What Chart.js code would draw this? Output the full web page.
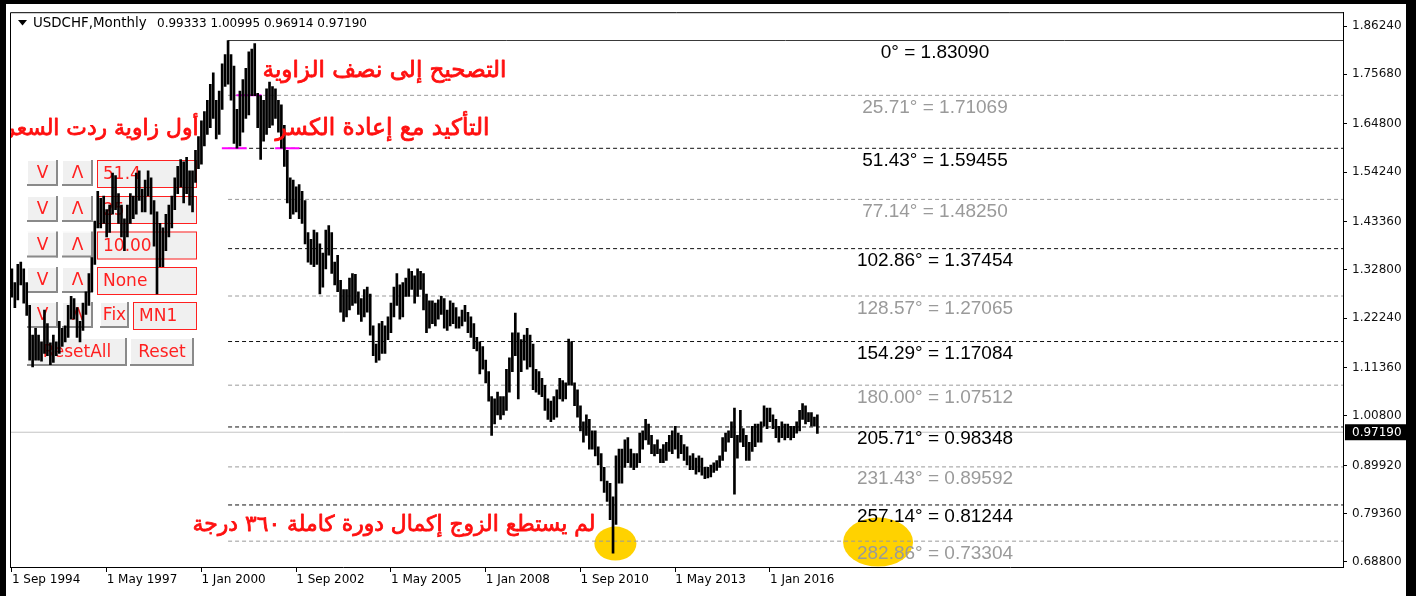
<!DOCTYPE html>
<html><head><meta charset="utf-8">
<script src="https://cdn.jsdelivr.net/npm/chart.js@4.4.0/dist/chart.umd.min.js"></script>
<style>html,body{margin:0;padding:0;background:#fff;overflow:hidden}#wrap{position:relative;width:1416px;height:596px}</style>
</head><body><div id="wrap"><canvas id="c" width="1416" height="596"></canvas></div>
<script>
// ---------------- DATA ----------------
const symbolName = 'USDCHF,Monthly';
const lastOHLC = [0.99333, 1.00995, 0.96914, 0.97190];
const xTickLabels = ['1 Sep 1994','1 May 1997','1 Jan 2000','1 Sep 2002','1 May 2005','1 Jan 2008','1 Sep 2010','1 May 2013','1 Jan 2016'];
const xTickStepMonths = 32;
const yTickValues = [1.86240,1.75680,1.64800,1.54240,1.43360,1.32800,1.22240,1.11360,1.00800,0.89920,0.79360,0.68800];
const levelAngles = ['0','25.71','51.43','77.14','102.86','128.57','154.29','180.00','205.71','231.43','257.14','282.86'];
const levelPrices = [1.83090,1.71069,1.59455,1.48250,1.37454,1.27065,1.17084,1.07512,0.98348,0.89592,0.81244,0.73304];
const levelStartBar = 73; // Oct 2000 high bar
// monthly highs / lows, first bar = Sep 1994
const highs = [
 1.330,1.300,1.340,1.345,
 1.330,1.300,1.250,1.185,1.200,1.185,1.170,1.240,1.210,1.168,1.185,1.170,
 1.215,1.200,1.205,1.250,1.270,1.265,1.245,1.215,1.255,1.280,1.320,1.355,
 1.435,1.500,1.485,1.490,1.460,1.470,1.540,1.535,1.495,1.470,1.440,1.470,
 1.495,1.490,1.540,1.545,1.505,1.525,1.545,1.530,1.480,1.455,1.430,1.420,
 1.450,1.470,1.490,1.530,1.555,1.570,1.565,1.575,1.545,1.545,1.590,1.620,
 1.655,1.675,1.700,1.735,1.760,1.700,1.720,1.780,1.800,1.8309,1.800,1.775,
 1.680,1.720,1.745,1.770,1.806,1.812,1.824,1.715,1.710,1.700,1.725,1.740,
 1.730,1.725,1.700,1.690,1.645,1.590,1.530,1.525,1.510,1.515,1.500,1.480,
 1.410,1.395,1.415,1.410,1.385,1.365,1.415,1.425,1.410,1.345,1.360,1.305,
 1.285,1.285,1.310,1.320,1.318,1.280,1.265,1.285,1.290,1.275,1.205,1.165,
 1.210,1.215,1.205,1.225,1.255,1.290,1.320,1.295,1.300,1.310,1.330,1.325,
 1.315,1.330,1.325,1.320,1.275,1.260,1.260,1.255,1.262,1.270,1.265,1.240,
 1.260,1.255,1.245,1.225,1.240,1.250,1.235,1.225,1.210,1.180,1.170,1.160,
 1.130,1.105,1.050,1.045,1.060,1.050,1.050,1.110,1.135,1.190,1.233,1.190,
 1.175,1.185,1.200,1.185,1.165,1.110,1.105,1.090,1.075,1.045,1.040,1.050,
 1.065,1.090,1.085,1.080,1.176,1.170,1.080,1.065,1.030,0.995,1.010,1.000,
 0.975,0.975,0.940,0.925,0.895,0.865,0.860,0.830,0.920,0.935,0.935,0.955,
 0.960,0.935,0.925,0.925,0.970,0.975,1.000,0.990,0.965,0.945,0.955,0.935,
 0.945,0.950,0.965,0.975,0.985,0.970,0.965,0.945,0.940,0.920,0.925,0.915,
 0.920,0.915,0.895,0.895,0.900,0.905,0.910,0.920,0.960,0.970,0.975,0.995,
 1.025,0.965,1.020,0.980,0.965,0.950,0.985,0.990,0.990,0.995,1.030,1.025,
 1.025,1.010,1.000,0.985,0.995,0.990,0.990,0.985,0.985,0.995,1.020,1.035,
 1.030,1.015,1.015,1.005,1.00995
];
const lows = [
 1.268,1.245,1.262,1.295,
 1.255,1.228,1.130,1.115,1.130,1.130,1.128,1.145,1.140,1.120,1.125,1.140,
 1.145,1.160,1.170,1.180,1.220,1.220,1.180,1.170,1.195,1.230,1.250,1.280,
 1.340,1.420,1.420,1.430,1.400,1.410,1.450,1.460,1.430,1.400,1.370,1.400,
 1.430,1.440,1.450,1.480,1.455,1.455,1.490,1.450,1.380,1.275,1.335,1.335,
 1.370,1.400,1.420,1.460,1.495,1.510,1.475,1.495,1.470,1.455,1.520,1.550,
 1.560,1.600,1.625,1.640,1.660,1.615,1.625,1.680,1.730,1.735,1.700,1.605,
 1.595,1.600,1.630,1.660,1.668,1.710,1.710,1.640,1.570,1.610,1.625,1.640,
 1.645,1.660,1.630,1.595,1.555,1.475,1.440,1.450,1.455,1.440,1.430,1.385,
 1.345,1.340,1.335,1.340,1.275,1.290,1.330,1.360,1.320,1.295,1.280,1.235,
 1.215,1.225,1.240,1.250,1.255,1.230,1.215,1.225,1.235,1.185,1.140,1.125,
 1.130,1.145,1.145,1.175,1.190,1.225,1.250,1.220,1.225,1.270,1.270,1.285,
 1.255,1.270,1.285,1.240,1.190,1.200,1.210,1.205,1.220,1.230,1.200,1.195,
 1.205,1.210,1.200,1.200,1.205,1.215,1.190,1.180,1.155,1.150,1.100,1.110,
 1.080,1.040,0.965,0.990,1.010,1.000,1.010,1.020,1.060,1.105,1.140,1.045,
 1.105,1.130,1.110,1.115,1.065,1.060,1.055,1.050,1.020,1.000,0.995,1.000,
 1.005,1.045,1.040,1.045,1.075,1.075,1.030,1.005,0.975,0.950,0.965,0.935,
 0.935,0.920,0.900,0.865,0.840,0.820,0.780,0.707,0.770,0.860,0.860,0.895,
 0.905,0.895,0.890,0.895,0.905,0.935,0.955,0.945,0.925,0.920,0.925,0.905,
 0.905,0.910,0.930,0.925,0.935,0.915,0.925,0.910,0.900,0.890,0.890,0.880,
 0.885,0.878,0.870,0.872,0.874,0.884,0.888,0.895,0.910,0.930,0.950,0.960,
 0.836,0.915,0.950,0.940,0.910,0.910,0.930,0.940,0.950,0.950,0.985,0.980,
 0.995,0.980,0.960,0.950,0.960,0.955,0.960,0.955,0.960,0.970,0.975,1.000,
 0.990,0.995,0.985,0.985,0.96914
];
// annotation anchors (bar index, price)
const magentaMarks = [{price:1.71069, from:75.8, to:84.3},{price:1.59455, from:70.9, to:79.3},{price:1.59455, from:88.9, to:97.1}];
const yellowMarks = [{bar:203.8, price:0.7277, rx:21, ry:17},{bar:292.5, price:0.7310, rx:35, ry:24.5}];
const notes = [
 {text:'التصحيح إلى نصف الزاوية', left:262, right:507, base:77},
 {text:'التأكيد مع إعادة الكسر', left:275, right:490, base:135},
 {text:'أول زاوية ردت السعر', left:4, right:199, base:135},
 {text:'لم يستطع الزوج إكمال دورة كاملة ٣٦٠ درجة', left:192, right:596, base:531}
];
const panelRows = [['51.4'],['25'],['10.00'],['None'],['Fix','MN1'],['ResetAll','Reset']];

// ---------------- CHART ----------------
const X_MIN = -0.64, X_MAX = 449.5, Y_MIN = 0.6764, Y_MAX = 1.8930;
const FONT = "'DejaVu Sans', sans-serif";

const datasets = [];
datasets.push({type:'bar', data: highs.map((h,i)=>({x:i, y:[lows[i], h]})), backgroundColor:'#000', borderWidth:0, barThickness:2, order:0});
levelPrices.forEach((p,i)=>{
  datasets.push({type:'line', data:[{x:levelStartBar,y:p},{x:X_MAX,y:p}],
    borderColor: i===0 ? '#3a3a3a' : (i%2 ? '#9a9a9a' : '#111111'),
    borderDash: i===0 ? [] : [4,3], borderWidth:1, pointRadius:0, order:3});
});
datasets.push({type:'line', data:[{x:X_MIN,y:lastOHLC[3]},{x:X_MAX,y:lastOHLC[3]}], borderColor:'#c4c4c4', borderWidth:1, pointRadius:0, order:4});
magentaMarks.forEach(m=>{
  datasets.push({type:'line', data:[{x:m.from,y:m.price},{x:m.to,y:m.price}], borderColor:'#ff00ff', borderWidth:2, pointRadius:0, order:2});
});

function drawButton(ctx,x,y,w,h,label){
  ctx.fillStyle='#f0f0f0'; ctx.fillRect(x,y,w,h);
  ctx.fillStyle='#ffffff'; ctx.fillRect(x,y,w,1); ctx.fillRect(x,y,1,h);
  ctx.fillStyle='#8a8a8a'; ctx.fillRect(x,y+h-2,w,2); ctx.fillRect(x+w-2,y,2,h);
  ctx.fillStyle='#ff2020'; ctx.font='17px '+FONT; ctx.textAlign='center'; ctx.textBaseline='middle';
  ctx.fillText(label, x+w/2, y+h/2+1);
}
function drawField(ctx,x,y,w,h,label){
  ctx.fillStyle='#f0f0f0'; ctx.fillRect(x,y,w,h);
  ctx.strokeStyle='#ff2020'; ctx.lineWidth=1; ctx.strokeRect(x+0.5,y+0.5,w-1,h-1);
  ctx.fillStyle='#ff2020'; ctx.font='17px '+FONT; ctx.textAlign='left'; ctx.textBaseline='middle';
  ctx.fillText(label, x+6, y+h/2+1);
}

const decor = {
  id:'decor',
  beforeDatasetsDraw(chart){
    const ctx=chart.ctx, xs=chart.scales.x, ys=chart.scales.y, a=chart.chartArea;
    ctx.save();
    const tops=[160,196,231.5,267,302,338];
    panelRows.forEach((r,i)=>{
      const t=tops[i];
      if(i<5){ drawButton(ctx,27,t,31,26,'V'); drawButton(ctx,62,t,31,26,'Λ'); }
      if(i<4){ drawField(ctx,97,t,100,28,r[0]); }
      else if(i===4){ drawButton(ctx,100,t,29,26,r[0]); drawField(ctx,133,t,64,28,r[1]); }
      else { drawButton(ctx,27,t,100,28,r[0]); drawButton(ctx,130,t,64,28,r[1]); }
    });
    ctx.beginPath(); ctx.rect(a.left,a.top,a.right-a.left,a.bottom-a.top); ctx.clip();
    ctx.fillStyle='#ffd200';
    yellowMarks.forEach(m=>{
      ctx.beginPath(); ctx.ellipse(xs.getPixelForValue(m.bar), ys.getPixelForValue(m.price), m.rx, m.ry, 0, 0, Math.PI*2); ctx.fill();
    });
    ctx.restore();
  },
  afterDatasetsDraw(chart){
    const ctx=chart.ctx, xs=chart.scales.x, ys=chart.scales.y, a=chart.chartArea;
    ctx.save();
    ctx.beginPath(); ctx.rect(a.left,a.top,a.right-a.left,a.bottom-a.top); ctx.clip();
    ctx.font="19px 'Liberation Sans', Arial, sans-serif"; ctx.textAlign='center'; ctx.textBaseline='alphabetic';
    levelPrices.forEach((p,i)=>{
      ctx.fillStyle = i%2 ? '#9a9a9a' : '#000000';
      ctx.fillText(levelAngles[i]+'° = '+p.toFixed(5), 935, ys.getPixelForValue(p)+17.5);
    });
    notes.forEach(n=>{
      ctx.direction='rtl'; ctx.textAlign='right';
      ctx.font='20px '+FONT;
      const w=ctx.measureText(n.text).width;
      const size=20*(n.right-n.left-1)/w;
      ctx.font=size.toFixed(2)+'px '+FONT;
      ctx.fillStyle='#ff1010'; ctx.strokeStyle='#ff1010'; ctx.lineWidth=0.8; ctx.lineJoin='round';
      ctx.fillText(n.text, n.right-0.5, n.base);
      ctx.strokeText(n.text, n.right-0.5, n.base);
    });
    ctx.direction='ltr';
    ctx.restore();
    ctx.save();
    ctx.fillStyle='#000';
    ctx.beginPath(); ctx.moveTo(18,20); ctx.lineTo(27,20); ctx.lineTo(22.5,25.5); ctx.closePath(); ctx.fill();
    ctx.textAlign='left'; ctx.textBaseline='alphabetic';
    ctx.font='13.4px '+FONT;
    ctx.fillText(symbolName, 33, 27);
    ctx.font='12px '+FONT;
    ctx.fillText(lastOHLC.map(v=>v.toFixed(5)).join(' '), 157, 27);
    ctx.restore();
  },
  afterDraw(chart){
    const ctx=chart.ctx, ys=chart.scales.y, a=chart.chartArea;
    ctx.save();
    ctx.strokeStyle='#000'; ctx.lineWidth=1;
    ctx.beginPath(); ctx.moveTo(a.left+0.5,a.bottom); ctx.lineTo(a.left+0.5,a.top+0.5); ctx.lineTo(a.right,a.top+0.5); ctx.stroke();
    const py=ys.getPixelForValue(lastOHLC[3]);
    ctx.fillStyle='#000'; ctx.fillRect(a.right+2, py-8, 70, 16);
    ctx.fillStyle='#fff'; ctx.font='12px '+FONT; ctx.textAlign='left'; ctx.textBaseline='middle';
    ctx.fillText(lastOHLC[3].toFixed(5), a.right+9, py+1);
    ctx.fillStyle='#000';
    ctx.fillRect(0,0,1416,4);
    ctx.fillRect(0,0,6,596);
    ctx.fillRect(1406,0,10,596);
    ctx.restore();
  }
};

new Chart(document.getElementById('c'), {
  type:'bar',
  data:{datasets},
  options:{
    responsive:false, animation:false, devicePixelRatio:1,
    layout:{padding:{left:10, top:10, right:0, bottom:0}},
    plugins:{legend:{display:false}, tooltip:{enabled:false}},
    scales:{
      x:{type:'linear', min:X_MIN, max:X_MAX, offset:false,
        grid:{drawOnChartArea:false, drawTicks:true, tickLength:5, color:'#000', offset:false},
        border:{display:true, color:'#000'},
        afterBuildTicks(s){ s.ticks = xTickLabels.map((_,i)=>({value:i*xTickStepMonths})); },
        afterFit(s){ s.height = 29; },
        ticks:{autoSkip:false, maxRotation:0, align:'start', padding:1, color:'#000', font:{family:"'DejaVu Sans'", size:12},
          callback(v){ const k=Math.round(v/xTickStepMonths); return xTickLabels[k] || ''; }}
      },
      y:{type:'linear', position:'right', min:Y_MIN, max:Y_MAX,
        grid:{drawOnChartArea:false, drawTicks:true, tickLength:4, color:'#000'},
        border:{display:true, color:'#000'},
        afterBuildTicks(s){ s.ticks = yTickValues.map(v=>({value:v})); },
        afterFit(s){ s.width = 73; },
        ticks:{padding:5, color:'#111', font:{family:"'DejaVu Sans'", size:12}, callback(v){ return v.toFixed(5); }}
      }
    }
  },
  plugins:[decor]
});
</script></body></html>
